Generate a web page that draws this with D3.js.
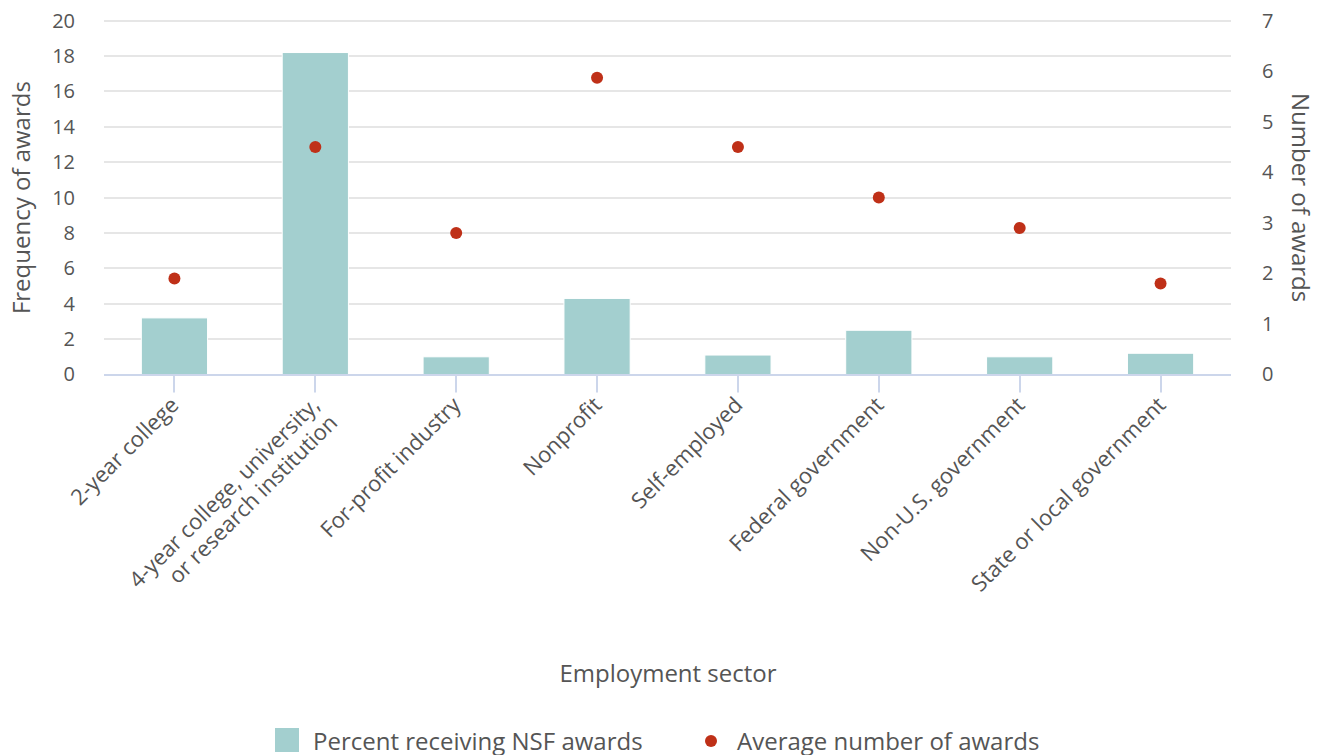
<!DOCTYPE html>
<html>
<head>
<meta charset="utf-8">
<script src="https://cdn.jsdelivr.net/npm/d3@7"></script>
<style>
  body { margin: 0; background: #fff; }
  text { font-family: "Open Sans", sans-serif; fill: #555; }
</style>
</head>
<body>
<div id="chart"></div>
<script>
// data
var sectors = ["2-year college", "4-year college, university,|or research institution", "For-profit industry",
  "Nonprofit", "Self-employed", "Federal government", "Non-U.S. government", "State or local government"];
var percentAwards = [3.2, 18.2, 1.0, 4.3, 1.1, 2.5, 1.0, 1.2];
var avgAwards = [1.9, 4.5, 2.8, 5.87, 4.5, 3.5, 2.9, 1.8];
var leftTicks = [0, 2, 4, 6, 8, 10, 12, 14, 16, 18, 20];
var rightTicks = [0, 1, 2, 3, 4, 5, 6, 7];

var W = 1322, H = 755;
var svg = d3.select("#chart").append("svg")
    .attr("width", W)
    .attr("height", H);

var plotL = 104, plotR = 1231, plotT = 20.7, plotB = 374.5;

var x = d3.scaleBand().domain(sectors).range([plotL, plotR])
    .paddingInner(0.53).paddingOuter(0.265);
var yL = d3.scaleLinear().domain([0, 20]).range([plotB, plotT]);
var yR = d3.scaleLinear().domain([0, 7]).range([plotB, plotT]);

// gridlines
svg.append("g").selectAll("line").data(leftTicks.slice(1))
  .enter().append("line")
    .attr("x1", plotL).attr("x2", plotR)
    .attr("y1", d => Math.round(yL(d))).attr("y2", d => Math.round(yL(d)))
    .attr("stroke", "#e6e6e6").attr("stroke-width", 2);

// left axis labels
var gl = svg.append("g")
    .attr("transform", "translate(" + (plotL - 29) + ",0)")
    .call(d3.axisLeft(yL).tickValues(leftTicks).tickSize(0).tickPadding(0));
gl.select(".domain").remove();
gl.selectAll("text").style("font-size", "20px").attr("fill", "#555").attr("dy", "0.32em");

// right axis labels
var gr = svg.append("g")
    .attr("transform", "translate(" + (plotR + 31) + ",0)")
    .call(d3.axisRight(yR).tickValues(rightTicks).tickFormat(d3.format("d")).tickSize(0).tickPadding(0));
gr.select(".domain").remove();
gr.selectAll("text").style("font-size", "20px").attr("fill", "#555").attr("dy", "0.32em");

// bars
svg.append("g").selectAll("rect").data(sectors)
  .enter().append("rect")
    .attr("x", d => x(d))
    .attr("width", x.bandwidth())
    .attr("y", (d, i) => yL(percentAwards[i]))
    .attr("height", (d, i) => plotB - yL(percentAwards[i]))
    .attr("fill", "#a3cfcf")
    .attr("stroke", "#fff").attr("stroke-width", 1);

// x axis line + ticks
svg.append("line")
    .attr("x1", plotL).attr("x2", plotR)
    .attr("y1", plotB + 0.5).attr("y2", plotB + 0.5)
    .attr("stroke", "#ccd6eb").attr("stroke-width", 2);

var xa = svg.append("g").selectAll("g").data(sectors)
  .enter().append("g")
    .attr("transform", d => "translate(" + Math.round(x(d) + x.bandwidth() / 2) + ",0)");
xa.append("line")
    .attr("y1", plotB + 1).attr("y2", plotB + 18)
    .attr("stroke", "#ccd6eb").attr("stroke-width", 2);
var lab = xa.append("text")
    .attr("text-anchor", "end")
    .attr("transform", "translate(6," + (plotB + 32) + ") rotate(-45)")
    .style("font-size", "22px");
lab.selectAll("tspan").data(d => d.split("|").map((t, i) => ({t: t, i: i})))
  .enter().append("tspan")
    .attr("x", 0)
    .attr("dy", d => d.i === 0 ? 0 : 25)
    .text(d => d.t);

// dots
svg.append("g").selectAll("circle").data(sectors)
  .enter().append("circle")
    .attr("cx", d => x(d) + x.bandwidth() / 2)
    .attr("cy", (d, i) => yR(avgAwards[i]))
    .attr("r", 6)
    .attr("fill", "#bf3018");

// axis titles
svg.append("text")
    .attr("transform", "translate(30," + ((plotT + plotB) / 2) + ") rotate(-90)")
    .attr("text-anchor", "middle")
    .style("font-size", "24px")
    .text("Frequency of awards");
svg.append("text")
    .attr("transform", "translate(1292," + ((plotT + plotB) / 2) + ") rotate(90)")
    .attr("text-anchor", "middle")
    .style("font-size", "24px")
    .text("Number of awards");
svg.append("text")
    .attr("x", 668).attr("y", 682)
    .attr("text-anchor", "middle")
    .style("font-size", "24px")
    .text("Employment sector");

// legend
var lg = svg.append("g");
lg.append("rect").attr("x", 275).attr("y", 728).attr("width", 24).attr("height", 24).attr("fill", "#a3cfcf");
lg.append("text").attr("x", 313).attr("y", 750).style("font-size", "24px").text("Percent receiving NSF awards");
lg.append("circle").attr("cx", 711).attr("cy", 741).attr("r", 6).attr("fill", "#bf3018");
lg.append("text").attr("x", 737).attr("y", 750).style("font-size", "24px").text("Average number of awards");
</script>
</body>
</html>
